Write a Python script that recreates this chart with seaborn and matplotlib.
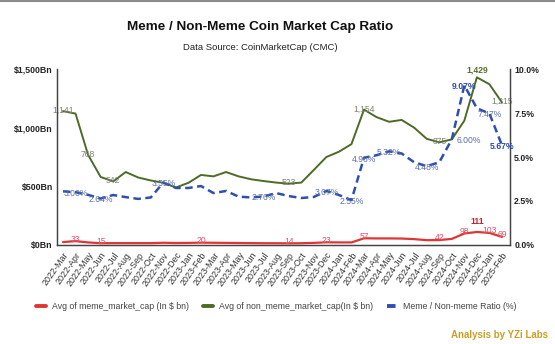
import numpy as np
import pandas as pd
import matplotlib
matplotlib.use("Agg")
import matplotlib.pyplot as plt
import seaborn as sns
from matplotlib.lines import Line2D

# ---------------- data ----------------
months = ["2022-Mar", "2022-Apr", "2022-May", "2022-Jun", "2022-Jul", "2022-Aug",
          "2022-Sep", "2022-Oct", "2022-Nov", "2022-Dec", "2023-Jan", "2023-Feb",
          "2023-Mar", "2023-Apr", "2023-May", "2023-Jun", "2023-Jul", "2023-Aug",
          "2023-Sep", "2023-Oct", "2023-Nov", "2023-Dec", "2024-Jan", "2024-Feb",
          "2024-Mar", "2024-Apr", "2024-May", "2024-Jun", "2024-Jul", "2024-Aug",
          "2024-Sep", "2024-Oct", "2024-Nov", "2024-Dec", "2025-Jan", "2025-Feb"]

meme_cap = [25, 33, 22, 15, 16, 16, 16, 16, 19, 17, 18, 20,
            19, 18, 17, 16, 15, 15, 14, 15, 18, 23, 22, 22,
            57, 56, 56, 55, 50, 41, 42, 52, 98, 111, 103, 69]

non_meme_cap = [1141, 1120, 768, 580, 542, 622, 575, 550, 530, 490, 530, 597,
                585, 622, 585, 560, 545, 532, 523, 532, 640, 750, 795, 860,
                1154, 1090, 1050, 1066, 1000, 905, 875, 900, 1060, 1429, 1370, 1215]

ratio_pct = [3.05, 3.00, 2.85, 2.64, 2.84, 2.72, 2.62, 2.70, 3.55, 3.24, 3.24, 3.35,
             2.95, 3.07, 2.75, 2.70, 2.76, 2.95, 2.78, 2.67, 2.73, 3.07, 2.84, 2.55,
             4.96, 5.10, 5.32, 5.20, 4.70, 4.48, 4.70, 6.00, 9.07, 7.77, 7.47, 5.67]

# which points carry data labels
meme_label_idx = [1, 3, 11, 18, 21, 24, 30, 32, 33, 34, 35]
non_meme_label_idx = [0, 2, 4, 18, 24, 30, 33, 35]
ratio_label_idx = [1, 3, 8, 16, 21, 23, 24, 26, 29, 31, 32, 34, 35]

left_ticks = [0, 500, 1000, 1500]
left_tick_labels = ["\\$0Bn", "\\$500Bn", "\\$1,000Bn", "\\$1,500Bn"]
right_ticks = [0, 2.5, 5.0, 7.5, 10.0]
right_tick_labels = ["0.0%", "2.5%", "5.0%", "7.5%", "10.0%"]

title = "Meme / Non-Meme Coin Market Cap Ratio"
subtitle = "Data Source: CoinMarketCap (CMC)"
legend_labels = ["Avg of meme_market_cap (In \\$ bn)",
                 "Avg of non_meme_market_cap(In \\$ bn)",
                 "Meme / Non-meme Ratio (%)"]
footer = "Analysis by YZi Labs"

# ---------------- styling ----------------
RED = "#e03535"
GREEN = "#4d6b27"
BLUE = "#2f4fb0"
DASH = (0, (3.0, 1.8))

sns.set_theme(style="white")
plt.rcParams["font.family"] = ["Liberation Sans", "DejaVu Sans"]

df = pd.DataFrame({"idx": np.arange(len(months)), "month": months,
                   "meme": meme_cap, "non_meme": non_meme_cap, "ratio": ratio_pct})

fig = plt.figure(figsize=(5.55, 3.44), dpi=100)
ax = fig.add_axes([0.1027, 0.2878, 0.8162, 0.5116])
ax2 = ax.twinx()

sns.lineplot(data=df, x="idx", y="meme", ax=ax, color=RED, lw=1.6)
sns.lineplot(data=df, x="idx", y="non_meme", ax=ax, color=GREEN, lw=1.4)
sns.lineplot(data=df, x="idx", y="ratio", ax=ax2, color=BLUE, lw=1.8, linestyle=DASH)

ax.set_xlim(-0.48, len(months) - 1 + 0.64)
ax.set_ylim(0, 1500)
ax2.set_ylim(0, 10)

ax.set_xlabel("")
ax.set_ylabel("")
ax2.set_ylabel("")
ax.set_xticks(df["idx"])
ax.set_xticklabels(months, rotation=55, ha="right", rotation_mode="anchor",
                   fontsize=6.4, color="#333333")
ax.set_yticks(left_ticks)
ax.set_yticklabels(left_tick_labels, fontsize=6.3, fontweight="bold", color="#222222")
ax2.set_yticks(right_ticks)
ax2.set_yticklabels(right_tick_labels, fontsize=6.3, fontweight="bold", color="#222222")
ax.tick_params(axis="both", length=0, pad=3)
ax.tick_params(axis="x", pad=4)
ax2.tick_params(axis="y", length=0, pad=3)
ax.grid(False)
ax2.grid(False)

for a in (ax, ax2):
    a.spines["top"].set_visible(False)
    for s in ("left", "right", "bottom"):
        a.spines[s].set_color("#444444")
        a.spines[s].set_linewidth(0.9)

# ---------------- data labels ----------------
def put(axis, i, val, text, color, dy=0, dx=0, bold=False, size=6.2):
    axis.annotate(text, (i, val), xytext=(dx, dy), textcoords="offset points",
                  ha="center", va="center", fontsize=size, color=color,
                  fontweight="bold" if bold else "normal")

for i in non_meme_label_idx:
    v = non_meme_cap[i]
    bold = (i == 33)
    put(ax, i, v, f"{v:,}", "#5a6e30" if bold else "#808070",
        dy=5.5 if bold else 0.5, bold=bold)

for i in meme_label_idx:
    v = meme_cap[i]
    bold = (i == 33)
    put(ax, i, v, f"{v}", "#c8202a" if bold else "#e0506a",
        dy=7.5 if bold else 1.5, bold=bold)

for i in ratio_label_idx:
    v = ratio_pct[i]
    bold = i in (32, 35)
    dx = 12 if i == 31 else 0
    put(ax2, i, v, f"{v:.2f}%", "#2f4aa8" if bold else "#5b6fa8",
        dx=dx, dy=-1, bold=bold)

# ---------------- titles, legend, footer ----------------
fig.text(0.469, 0.921, title, ha="center", va="center", fontsize=9.7,
         fontweight="bold", color="#111111")
fig.text(0.469, 0.863, subtitle, ha="center", va="center", fontsize=6.8, color="#222222")

handles = [Line2D([], [], color=RED, lw=2.8),
           Line2D([], [], color=GREEN, lw=2.8),
           Line2D([], [], color=BLUE, lw=2.8, linestyle=(0, (2.2, 1.4)))]
fig.legend(handles, legend_labels, loc="center", bbox_to_anchor=(0.498, 0.11),
           ncol=3, frameon=False, fontsize=6.3, handlelength=1.1,
           handletextpad=0.7, columnspacing=1.6, labelcolor="#444444")

fig.text(0.988, 0.025, footer, ha="right", va="center", fontsize=7,
         fontweight="bold", color="#c8a028")

fig.add_artist(Line2D([0, 1], [0.997, 0.997], color="#8a8a8a", lw=1.5,
                      transform=fig.transFigure))

fig.savefig("out.png", dpi=100, facecolor="white")
